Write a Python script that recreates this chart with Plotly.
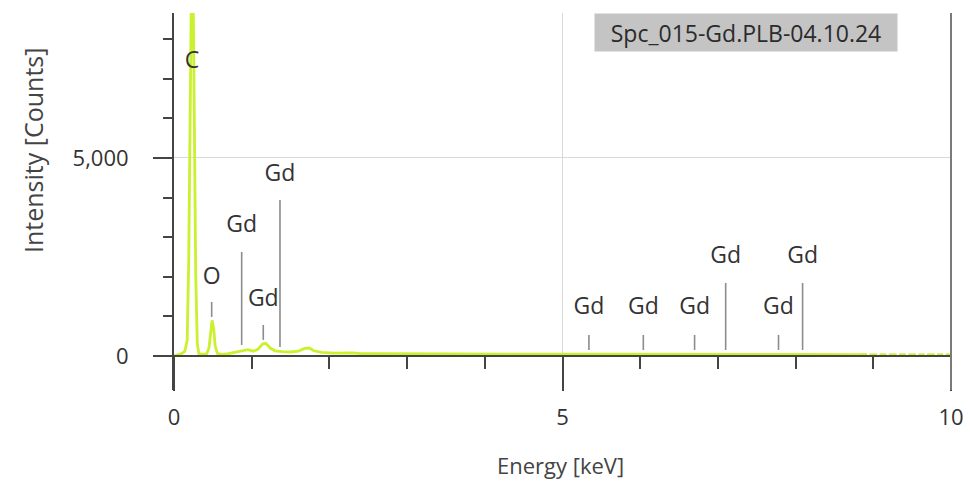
import plotly.graph_objects as go

# EDS spectrum, Energy (keV) vs intensity (counts)
energy = [0.00, 0.05, 0.10, 0.14, 0.17, 0.19, 0.21, 0.225, 0.245, 0.26, 0.28, 0.30,
          0.32, 0.36, 0.42, 0.45, 0.47, 0.49, 0.51, 0.53, 0.56, 0.62, 0.70, 0.80,
          0.88, 0.95, 1.02, 1.08, 1.14, 1.18, 1.24, 1.30, 1.40, 1.50, 1.60, 1.68,
          1.74, 1.80, 1.90, 2.05, 2.30, 2.40, 2.60, 3.00, 3.50, 4.00, 4.50, 5.00,
          5.50, 6.00, 6.50, 7.00, 7.50, 8.00, 8.50, 8.80]
counts = [0, 30, 60, 120, 400, 2500, 6500, 9500, 9500, 6000, 2000, 300,
          60, 40, 50, 200, 650, 900, 700, 250, 60, 40, 60, 100,
          150, 160, 120, 170, 300, 320, 200, 130, 110, 100, 120, 190,
          200, 130, 90, 70, 80, 60, 55, 50, 50, 45, 45, 45,
          45, 40, 40, 40, 40, 40, 35, 35]

# high-energy tail, channels with no counts left empty (None)
tail_energy = [8.80, 8.92, None, 8.95, 9.05, None, 9.08, 9.17, None, 9.20, 9.30, None,
               9.33, 9.42, None, 9.45, 9.55, None, 9.58, 9.66, None, 9.69, 9.79, None,
               9.82, 9.90, None, 9.93, 10.0]
tail_counts = [35, 35, None, 30, 30, None, 30, 30, None, 30, 30, None,
               30, 30, None, 30, 30, None, 30, 30, None, 30, 30, None,
               30, 30, None, 30, 30]

# element marker lines: energy, lower and upper ends (counts)
marker_element = ["C", "O", "Gd", "Gd", "Gd", "Gd", "Gd", "Gd", "Gd", "Gd", "Gd"]
marker_energy = [0.232, 0.485, 0.871, 1.149, 1.364, 5.34, 6.04, 6.70, 7.10, 7.78, 8.09]
marker_low = [8104, 985, 278, 404, 227, 151, 151, 151, 151, 151, 151]
marker_high = [8483, 1363, 2626, 783, 3938, 530, 530, 530, 1843, 530, 1843]
label_y = [7424, 1970, 3283, 1414, 4570, 1212, 1212, 1212, 2500, 1212, 2500]

spectrum_name = "Spc_015-Gd.PLB-04.10.24"

y_min, y_max = -860, 8660
x_min, x_max = 0, 10

fig = go.Figure()

# marker lines
mx, my = [], []
for e, lo, hi in zip(marker_energy, marker_low, marker_high):
    mx += [e, e, None]
    my += [lo, hi, None]
fig.add_trace(go.Scatter(x=mx, y=my, mode="lines",
                         line=dict(color="#8c8c8c", width=1.6), hoverinfo="skip"))

# spectrum
green = "#cbf02e"
fig.add_trace(go.Scatter(x=energy, y=counts, mode="lines",
                         line=dict(color=green, width=2.8)))
fig.add_trace(go.Scatter(x=tail_energy, y=tail_counts, mode="lines",
                         line=dict(color=green, width=2.8), connectgaps=False))

# element labels
fig.add_trace(go.Scatter(x=marker_energy, y=label_y, mode="text", text=marker_element,
                         textposition="middle center",
                         textfont=dict(family="Open Sans", size=23, color="#333333"),
                         cliponaxis=False))

axis_col = "#444444"
grid_col = "#d9d9d9"
zero_pos = (0 - y_min) / (y_max - y_min)

fig.update_layout(
    width=970, height=483,
    margin=dict(l=174, r=19, t=13, b=93),
    plot_bgcolor="white", paper_bgcolor="white",
    showlegend=False,
    font=dict(family="Open Sans", size=22, color="#333333"),
    xaxis=dict(
        range=[x_min, x_max], tick0=0, dtick=5,
        ticks="outside", ticklen=34, tickwidth=2, tickcolor=axis_col,
        showline=True, linecolor=axis_col, linewidth=2,
        anchor="free", position=zero_pos, automargin=False,
        showgrid=True, gridcolor=grid_col, gridwidth=1, zeroline=False,
        minor=dict(dtick=1, ticks="outside", ticklen=12, tickwidth=2,
                   tickcolor=axis_col, showgrid=False),
        tickfont=dict(size=22, color="#333333"),
        ticklabelstandoff=8,
    ),
    yaxis=dict(
        range=[y_min, y_max], tick0=0, dtick=5000, tickformat=",",
        ticks="outside", ticklen=19, tickwidth=2, tickcolor=axis_col,
        showline=True, linecolor=axis_col, linewidth=2, automargin=False,
        showgrid=True, gridcolor=grid_col, gridwidth=1, zeroline=False,
        minor=dict(dtick=1000, ticks="outside", ticklen=9, tickwidth=2,
                   tickcolor=axis_col, showgrid=False),
        tickfont=dict(size=22, color="#333333"),
        ticklabelstandoff=20,
    ),
    shapes=[dict(type="line", xref="paper", yref="paper", x0=1, x1=1, y0=0, y1=1,
                 line=dict(color="#7a7a7a", width=2))],
    annotations=[
        dict(text="Energy [keV]", xref="paper", yref="paper", x=0.498, y=-0.199,
             showarrow=False, font=dict(size=22, color="#444444"),
             xanchor="center", yanchor="middle"),
        dict(text="Intensity [Counts]", xref="paper", yref="paper", x=-0.1815, y=0.6366,
             textangle=-90, showarrow=False, font=dict(size=25, color="#444444"),
             xanchor="center", yanchor="middle"),
        dict(text=spectrum_name, xref="paper", yref="paper", x=0.7365, y=1.0,
             xanchor="center", yanchor="top", showarrow=False,
             bgcolor="#c4c4c4", width=302, height=37, borderpad=0,
             font=dict(size=23, color="#2b2b2b")),
    ],
)

fig.write_html("out.html")
